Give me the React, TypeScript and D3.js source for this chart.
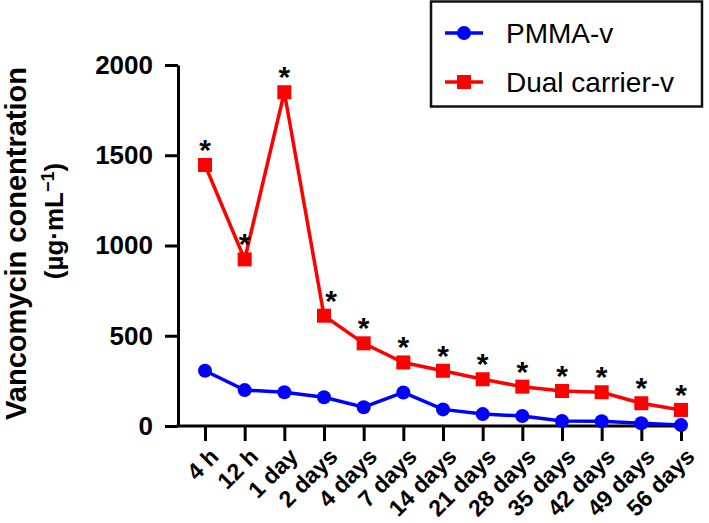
import React, { useEffect, useRef } from 'react';
import * as d3 from 'd3';

const timePoints = ['4 h', '12 h', '1 day', '2 days', '4 days', '7 days', '14 days', '21 days', '28 days', '35 days', '42 days', '49 days', '56 days'];
const pmmaValues = [306, 199, 187, 159, 104, 186, 92, 66, 55, 28, 26, 15, 5];
const dualValues = [1446, 923, 1849, 611, 458, 352, 306, 259, 218, 194, 187, 126, 89];
const yTicks = [0, 500, 1000, 1500, 2000];

const FONT = 'Arial, "Liberation Sans", Helvetica, sans-serif';

const App: React.FC = () => {
  const svgRef = useRef<SVGSVGElement>(null);
  const width = 709;
  const height = 523;

  useEffect(() => {
    if (!svgRef.current) return;
    const svg = d3.select(svgRef.current);
    svg.selectAll('*').remove();

    const axisX = 178;
    const x = d3.scalePoint<string>().domain(timePoints).range([205, 681]);
    const y = d3.scaleLinear().domain([0, 2000]).range([426, 65]);

    // Y axis
    const yAxis = svg.append('g')
      .attr('transform', `translate(${axisX},0)`)
      .call(d3.axisLeft(y).tickValues(yTicks).tickSize(13).tickSizeOuter(0).tickPadding(12).tickFormat(d3.format('d')));
    yAxis.select('.domain').attr('stroke', '#000').attr('stroke-width', 3);
    yAxis.selectAll('.tick line').attr('stroke', '#000').attr('stroke-width', 3);
    yAxis.selectAll('.tick text')
      .attr('fill', '#000')
      .style('font-family', FONT)
      .style('font-size', '26px')
      .style('font-weight', 'bold');

    // X axis
    const xAxis = svg.append('g')
      .attr('transform', `translate(0,${y(0)})`)
      .call(d3.axisBottom(x).tickSize(15).tickSizeOuter(0).tickFormat(() => ''));
    xAxis.select('.domain').remove();
    xAxis.selectAll('.tick line').attr('stroke', '#000').attr('stroke-width', 3);
    svg.append('line')
      .attr('x1', axisX - 1.5)
      .attr('x2', x(timePoints[timePoints.length - 1])! + 2)
      .attr('y1', y(0))
      .attr('y2', y(0))
      .attr('stroke', '#000')
      .attr('stroke-width', 3);

    svg.append('g')
      .selectAll('text')
      .data(timePoints)
      .enter()
      .append('text')
      .attr('transform', (d) => `translate(${x(d)! + 15},${y(0) + 32}) rotate(-45)`)
      .attr('text-anchor', 'end')
      .style('font-family', FONT)
      .style('font-size', '23px')
      .style('font-weight', 'bold')
      .text((d) => d);

    // Axis title
    svg.append('text')
      .attr('transform', `translate(26,${(y(0) + y(2000)) / 2 - 2}) rotate(-90)`)
      .attr('text-anchor', 'middle')
      .style('font-family', FONT)
      .style('font-size', '29px')
      .style('font-weight', 'bold')
      .text('Vancomycin conentration');

    const unit = svg.append('text')
      .attr('transform', `translate(63,221) rotate(-90)`)
      .attr('text-anchor', 'middle')
      .style('font-family', FONT)
      .style('font-size', '26px')
      .style('font-weight', 'bold');
    unit.append('tspan').text('(µg·mL');
    unit.append('tspan').attr('dy', -9).style('font-size', '18px').text('−1');
    unit.append('tspan').attr('dy', 9).text(')');

    const line = d3.line<number>()
      .x((_, i) => x(timePoints[i])!)
      .y((d) => y(d));

    // PMMA-v
    svg.append('path')
      .datum(pmmaValues)
      .attr('fill', 'none')
      .attr('stroke', '#0000ff')
      .attr('stroke-width', 3.5)
      .attr('d', line);
    svg.append('g')
      .selectAll('circle')
      .data(pmmaValues)
      .enter()
      .append('circle')
      .attr('cx', (_, i) => x(timePoints[i])!)
      .attr('cy', (d) => y(d))
      .attr('r', 7)
      .attr('fill', '#0000ff');

    // Dual carrier-v
    svg.append('path')
      .datum(dualValues)
      .attr('fill', 'none')
      .attr('stroke', '#ff0000')
      .attr('stroke-width', 3.5)
      .attr('d', line);
    svg.append('g')
      .selectAll('rect')
      .data(dualValues)
      .enter()
      .append('rect')
      .attr('x', (_, i) => x(timePoints[i])! - 7)
      .attr('y', (d) => y(d) - 7)
      .attr('width', 14)
      .attr('height', 14)
      .attr('fill', '#ff0000');

    // significance stars
    svg.append('g')
      .selectAll('text')
      .data(dualValues)
      .enter()
      .append('text')
      .attr('x', (_, i) => x(timePoints[i])! + (i === 3 ? 7 : 0))
      .attr('y', (d) => y(d) - 5)
      .attr('text-anchor', 'middle')
      .style('font-family', FONT)
      .style('font-size', '30px')
      .style('font-weight', 'bold')
      .text('*');

    // Legend
    const legend = svg.append('g');
    legend.append('rect')
      .attr('x', 431)
      .attr('y', 1.5)
      .attr('width', 271)
      .attr('height', 105)
      .attr('fill', '#fff')
      .attr('stroke', '#111')
      .attr('stroke-width', 2.5);

    const items = [
      { label: 'PMMA-v', color: '#0000ff', shape: 'circle' },
      { label: 'Dual carrier-v', color: '#ff0000', shape: 'square' },
    ];
    items.forEach((it, i) => {
      const cy = 33 + i * 49;
      legend.append('line')
        .attr('x1', 445).attr('x2', 483)
        .attr('y1', cy).attr('y2', cy)
        .attr('stroke', it.color)
        .attr('stroke-width', 3.5);
      if (it.shape === 'circle') {
        legend.append('circle').attr('cx', 464).attr('cy', cy).attr('r', 7).attr('fill', it.color);
      } else {
        legend.append('rect').attr('x', 457).attr('y', cy - 7).attr('width', 14).attr('height', 14).attr('fill', it.color);
      }
      legend.append('text')
        .attr('x', 506)
        .attr('y', cy + 10)
        .style('font-family', FONT)
        .style('font-size', '28px')
        .text(it.label);
    });
  }, []);

  return (
    <svg
      ref={svgRef}
      width={width}
      height={height}
      viewBox={`0 0 ${width} ${height}`}
      style={{ position: 'absolute', left: 0, top: 0, background: '#fff' }}
    />
  );
};

export default App;
